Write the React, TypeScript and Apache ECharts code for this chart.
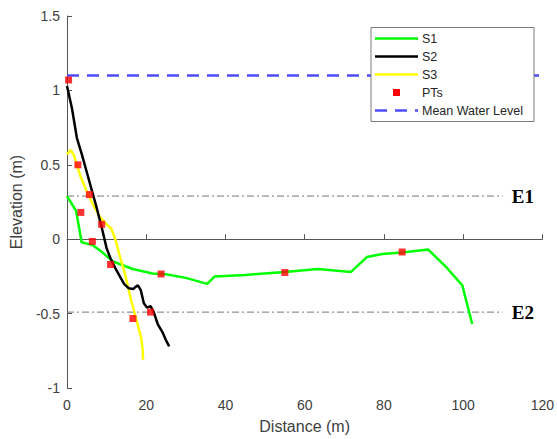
import React, { useEffect, useRef } from "react";
import * as echarts from "echarts";

const s1: number[][] = [
  [0, 0.29], [2.3, 0.19], [3.7, -0.02], [6.5, -0.04], [9, -0.09], [11.6, -0.15],
  [16.6, -0.2], [21.6, -0.23], [25, -0.235], [30, -0.26], [35.4, -0.3], [37.3, -0.25],
  [45, -0.24], [55, -0.22], [63.3, -0.2], [71.7, -0.22], [75.7, -0.12], [79.6, -0.1],
  [84.6, -0.09], [91.2, -0.07], [95.8, -0.19], [99.8, -0.31], [102.3, -0.57],
];
const s2: number[][] = [
  [0, 1.03], [1.25, 0.88], [2.5, 0.68], [3.75, 0.57], [5, 0.45], [6.25, 0.33],
  [7.5, 0.21], [8.75, 0.08], [10, -0.06], [11, -0.13], [12.3, -0.2], [14.4, -0.3],
  [15.6, -0.33], [16.7, -0.335], [17.3, -0.32], [17.9, -0.31], [18.6, -0.34],
  [19.4, -0.43], [20.2, -0.46], [21.1, -0.45], [21.9, -0.49], [22.9, -0.57],
  [24.2, -0.63], [25, -0.68], [25.8, -0.72],
];
const s3: number[][] = [
  [0, 0.57], [0.9, 0.6], [1.8, 0.56], [3.3, 0.43], [5, 0.32], [6.6, 0.23], [8.3, 0.15],
  [10, 0.1], [11.2, 0.07], [12.2, 0], [13.3, -0.11], [14.6, -0.23], [16.2, -0.41],
  [17.5, -0.54], [18.7, -0.66], [19.1, -0.74], [19.2, -0.81],
];
const pts: number[][] = [
  [0.4, 1.07], [2.75, 0.5], [5.65, 0.3], [3.5, 0.18], [8.75, 0.1], [6.4, -0.015],
  [11, -0.17], [23.75, -0.234], [16.65, -0.533], [21.1, -0.49], [55, -0.224], [84.6, -0.086],
];
const meanWaterLevel = 1.1;
const e1Level = 0.29;
const e2Level = -0.49;
const refLineEnd = 110;
const xTicks = { min: 0, max: 120, interval: 20 };
const yTicks = { min: -1, max: 1.5, interval: 0.5 };
const legendNames = ["S1", "S2", "S3", "PTs", "Mean Water Level"];

const GREEN = "#00ff00";
const BLACK = "#000000";
const YELLOW = "#ffff00";
const RED = "#ff0000";
const BLUE = "#4d4dff";
const SANS = "'Liberation Sans', Arial, Helvetica, sans-serif";
const SERIF = "'Liberation Serif', 'Times New Roman', serif";

export default function App() {
  const ref = useRef<HTMLDivElement>(null);
  useEffect(() => {
    if (!ref.current) return;
    const chart = echarts.init(ref.current, null, { renderer: "svg" });
    const axisColor = "#555555";
    const labelColor = "#404040";

    const legX = 371, legY = 27.5, legW = 163, legH = 94;
    const rowY = [38.5, 56.5, 74.5, 92.5, 110.5];
    const sx1 = 375, sx2 = 418, tx = 422;
    const Z = 100;
    const legendChildren: any[] = [
      {
        type: "rect",
        z: Z,
        shape: { x: legX, y: legY, width: legW, height: legH },
        style: { fill: "#ffffff", stroke: "#7a7a7a", lineWidth: 1 },
      },
    ];
    const colors = [GREEN, BLACK, YELLOW];
    for (let i = 0; i < 3; i++) {
      legendChildren.push({
        type: "line",
        z: Z + 1,
        shape: { x1: sx1, y1: rowY[i], x2: sx2, y2: rowY[i] },
        style: { stroke: colors[i], lineWidth: 2.5 },
      });
    }
    legendChildren.push({
      type: "rect",
      z: Z + 1,
      shape: { x: (sx1 + sx2) / 2 - 3.5, y: rowY[3] - 3.5, width: 7, height: 7 },
      style: { fill: RED },
    });
    legendChildren.push({
      type: "line",
      z: Z + 1,
      shape: { x1: sx1, y1: rowY[4], x2: sx2, y2: rowY[4] },
      style: { stroke: BLUE, lineWidth: 2.5, lineDash: [12, 8] },
    });
    legendNames.forEach((n, i) => {
      legendChildren.push({
        type: "text",
        z: Z + 1,
        x: tx,
        y: rowY[i],
        style: {
          text: n,
          fill: "#262626",
          font: `12.5px ${SANS}`,
          verticalAlign: "middle",
          align: "left",
        },
      });
    });

    const option: any = {
      animation: false,
      backgroundColor: "#ffffff",
      grid: { left: 67, right: 10, top: 16, bottom: 47, containLabel: false },
      xAxis: {
        type: "value",
        min: xTicks.min,
        max: xTicks.max,
        interval: xTicks.interval,
        name: "Distance (m)",
        nameLocation: "middle",
        nameGap: 30,
        nameTextStyle: { color: labelColor, fontSize: 16, fontFamily: SANS },
        axisLine: { show: true, lineStyle: { color: axisColor, width: 1 } },
        axisTick: { show: true, inside: true, length: 5, lineStyle: { color: axisColor } },
        axisLabel: { color: labelColor, fontSize: 14, fontFamily: SANS, margin: 10 },
        splitLine: { show: false },
      },
      yAxis: {
        type: "value",
        min: yTicks.min,
        max: yTicks.max,
        interval: yTicks.interval,
        name: "Elevation (m)",
        nameLocation: "middle",
        nameGap: 38,
        nameRotate: 90,
        nameTextStyle: { color: labelColor, fontSize: 16, fontFamily: SANS },
        axisLine: { show: true, onZero: false, lineStyle: { color: axisColor, width: 1 } },
        axisTick: { show: true, inside: true, length: 5, lineStyle: { color: axisColor } },
        axisLabel: { color: labelColor, fontSize: 14, fontFamily: SANS, margin: 7 },
        splitLine: { show: false },
      },
      series: [
        {
          name: "E1",
          type: "line",
          data: [[0, e1Level], [refLineEnd, e1Level]],
          symbol: "none",
          silent: true,
          lineStyle: { color: "#777777", width: 1, type: [7, 3, 2, 3] },
          endLabel: {
            show: true,
            formatter: "E1",
            distance: 9,
            color: "#000",
            fontFamily: SERIF,
            fontWeight: "bold",
            fontSize: 19,
          },
          z: 1,
        },
        {
          name: "E2",
          type: "line",
          data: [[0, e2Level], [refLineEnd, e2Level]],
          symbol: "none",
          silent: true,
          lineStyle: { color: "#777777", width: 1, type: [7, 3, 2, 3] },
          endLabel: {
            show: true,
            formatter: "E2",
            distance: 9,
            color: "#000",
            fontFamily: SERIF,
            fontWeight: "bold",
            fontSize: 19,
          },
          z: 1,
        },
        {
          name: "Mean Water Level",
          type: "line",
          data: [[xTicks.min, meanWaterLevel], [xTicks.max, meanWaterLevel]],
          symbol: "none",
          lineStyle: { color: BLUE, width: 2.5, type: [12, 8] },
          z: 2,
        },
        {
          name: "S1",
          type: "line",
          data: s1,
          symbol: "none",
          lineStyle: { color: GREEN, width: 2.5 },
          z: 3,
        },
        {
          name: "S3",
          type: "line",
          data: s3,
          symbol: "none",
          lineStyle: { color: YELLOW, width: 2.5 },
          z: 3,
        },
        {
          name: "S2",
          type: "line",
          data: s2,
          symbol: "none",
          lineStyle: { color: BLACK, width: 2.5 },
          z: 4,
        },
        {
          name: "PTs",
          type: "scatter",
          data: pts,
          symbol: "rect",
          symbolSize: 7,
          itemStyle: { color: RED },
          z: 6,
        },
      ],
      graphic: { z: Z, elements: [{ type: "group", z: Z, children: legendChildren }] },
    };
    chart.setOption(option);
    return () => chart.dispose();
  }, []);
  return (
    <div
      ref={ref}
      style={{ position: "fixed", left: 0, top: 0, width: 557, height: 439, background: "#fff" }}
    />
  );
}
